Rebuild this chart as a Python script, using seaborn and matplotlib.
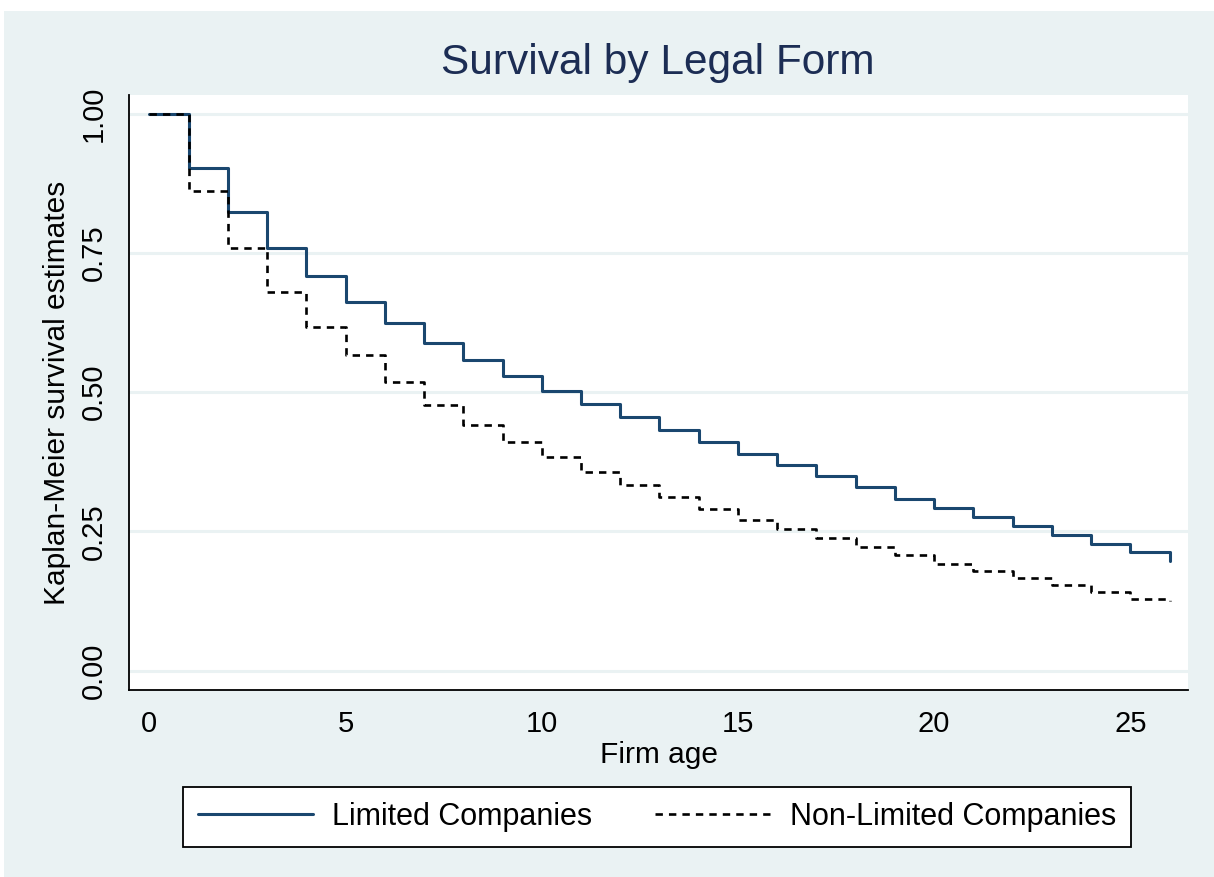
import matplotlib
matplotlib.use("Agg")
import matplotlib.pyplot as plt
import seaborn as sns
import pandas as pd
from matplotlib.patches import Rectangle

# ---- data ----
firm_age = list(range(0, 27))
limited = [1.000, 0.903, 0.823, 0.760, 0.708, 0.662, 0.624, 0.589, 0.558, 0.529,
           0.503, 0.478, 0.455, 0.432, 0.410, 0.389, 0.369, 0.349, 0.329, 0.309,
           0.292, 0.275, 0.259, 0.243, 0.228, 0.213, 0.197]
non_limited = [1.000, 0.861, 0.759, 0.680, 0.617, 0.566, 0.518, 0.477, 0.441, 0.410,
               0.383, 0.356, 0.333, 0.311, 0.290, 0.271, 0.254, 0.238, 0.222, 0.207,
               0.192, 0.178, 0.166, 0.154, 0.141, 0.129, 0.125]
series_names = ["Limited Companies", "Non-Limited Companies"]
y_ticks = [0.0, 0.25, 0.5, 0.75, 1.0]
y_ticklabels = ["0.00", "0.25", "0.50", "0.75", "1.00"]
x_ticks = [0, 5, 10, 15, 20, 25]

sns.set_style("white")
plt.rcParams["font.family"] = ["Liberation Sans", "DejaVu Sans"]
plt.rcParams["text.color"] = "black"
plt.rcParams["axes.labelcolor"] = "black"

W, H = 1214, 877
fig = plt.figure(figsize=(W / 100, H / 100), dpi=100, facecolor="white")
bg = "#EAF2F3"
fig.patches.append(Rectangle((4 / W, 0), 1 - 4 / W, 1 - 11 / H,
                             transform=fig.transFigure, facecolor=bg,
                             edgecolor="none", zorder=-10))

left, right, top, bottom = 129, 1188, 95, 690
ax = fig.add_axes([left / W, 1 - bottom / H, (right - left) / W, (bottom - top) / H])
ax.set_facecolor("white")

df1 = pd.DataFrame({"age": firm_age, "surv": limited})
df2 = pd.DataFrame({"age": firm_age, "surv": non_limited})

sns.lineplot(data=df1, x="age", y="surv", ax=ax, drawstyle="steps-post",
             color="#1A476F", linewidth=2.2, label=series_names[0], legend=False)
sns.lineplot(data=df2, x="age", y="surv", ax=ax, drawstyle="steps-post",
             color="black", linewidth=1.9, dashes=False, label=series_names[1], legend=False)
ax.lines[1].set_linestyle((0, (2.8, 2.3)))

ax.set_xlim(-0.52, 26.47)
ax.set_ylim(-0.035, 1.034)

ax.set_yticks(y_ticks)
ax.set_yticklabels(y_ticklabels, rotation=90, va="center")
ax.set_xticks(x_ticks)
ax.tick_params(axis="both", labelsize=21, length=8.5, width=1.3, direction="out",
               color="black", labelcolor="black", pad=6)
ax.tick_params(axis="y", pad=7)
ax.yaxis.grid(True, color=bg, linewidth=2.2)
ax.set_axisbelow(True)

for s in ["top", "right"]:
    ax.spines[s].set_visible(False)
for s in ["left", "bottom"]:
    ax.spines[s].set_color("black")
    ax.spines[s].set_linewidth(1.3)

ax.set_xlabel("Firm age", fontsize=21.5, labelpad=2, color="black")
ax.set_ylabel("Kaplan-Meier survival estimates", fontsize=21.5, labelpad=6, color="black")

fig.text(658 / W, 1 - 63 / H, "Survival by Legal Form", ha="center", va="center",
         fontsize=30.5, color="#1C2D54")

h, l = ax.get_legend_handles_labels()
leg = fig.legend(h, l, loc="center", bbox_to_anchor=(657 / W, 1 - 817 / H),
                 ncol=2, fontsize=22, frameon=True, fancybox=False,
                 edgecolor="black", facecolor="white", framealpha=1,
                 handlelength=3.75, handletextpad=0.65, columnspacing=2.05,
                 borderpad=0.5, borderaxespad=0, labelcolor="black")
leg.get_frame().set_linewidth(1.3)

fig.savefig("out.png", dpi=100, facecolor="white")
